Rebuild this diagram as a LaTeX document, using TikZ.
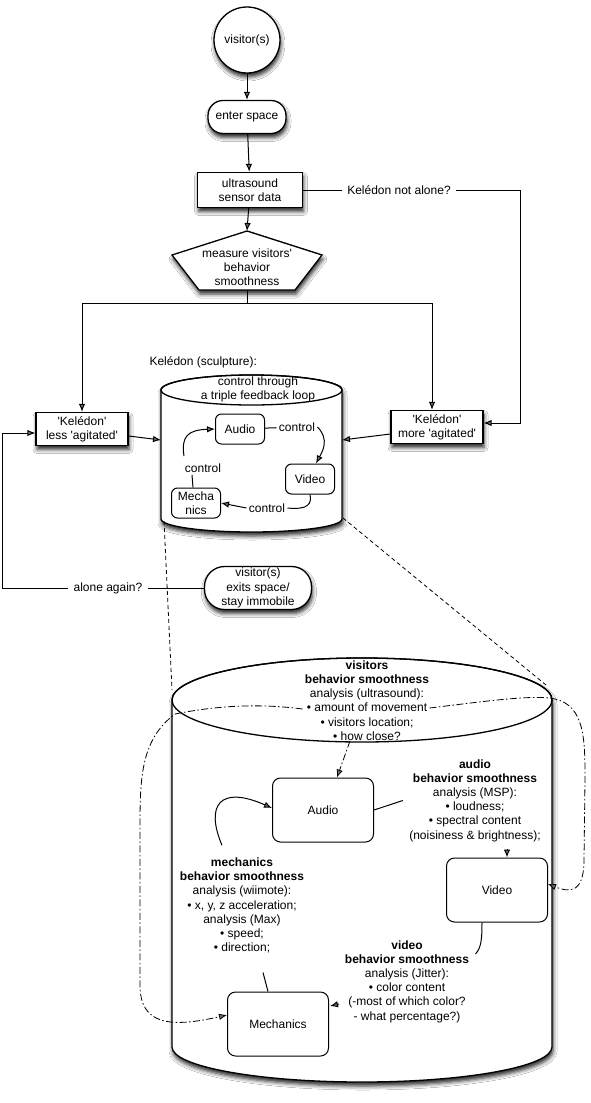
\documentclass[tikz,border=0pt]{standalone}
\usepackage{fontspec}
\setmainfont{Liberation Sans}
\usetikzlibrary{arrows.meta,calc,shadows.blur}
\newcommand\sq{\textquotesingle}
\begin{document}
\begin{tikzpicture}[x=1pt,y=-1pt,
  font=\fontsize{12}{14.2}\selectfont,
  line width=1pt,
  arr/.style={-{Latex[length=8pt,width=6.5pt]}},
  sh/.style={blur shadow={shadow xshift=1pt,shadow yshift=-4pt,shadow blur radius=4pt,shadow opacity=85}},
  box/.style={draw, line width=1.3pt, fill=white, sh, align=center, inner sep=0pt},
  sbox/.style={draw, line width=1pt, fill=white, rounded corners=6pt, align=center, inner sep=0pt, minimum width=49pt, minimum height=30pt},
  bbox/.style={draw, line width=1pt, fill=white, rounded corners=8pt, align=center, inner sep=0pt, minimum width=101pt, minimum height=64pt},
  lbl/.style={align=center, inner sep=2pt},
  gap/.style={align=center, inner sep=5pt},
  txt/.style={align=center, inner sep=0pt},
  dd/.style={dash pattern=on 7pt off 2.5pt on 1.5pt off 2.5pt, line width=0.8pt},
  ds/.style={dash pattern=on 4pt off 3pt, line width=0.8pt},
]
\useasboundingbox[fill=white] (0,0) rectangle (590,1103);

% ---------- top flow ----------
\node[box, circle, minimum size=66pt] (visitor) at (247,40) {visitor(s)};
\node[box, rounded corners=15pt, minimum width=78pt, minimum height=33pt] (enter) at (247,117) {enter space};
\node[box, minimum width=105pt, minimum height=35pt] (ultra) at (250,190) {ultrasound\\sensor data};
\draw[box] (247,231) coordinate (ptop) -- (322,255) -- (295,290) -- (247,290) coordinate (pbot) -- (199,290) -- (172,255) -- cycle;
\node[txt] (measure) at (247,267.5) {measure visitors\sq\\behavior\\smoothness};

\draw[arr] (visitor) -- (enter);
\draw[arr] (enter) -- (ultra);
\draw[arr] (ultra) -- (ptop);

\node[box, minimum width=92pt, minimum height=33pt] (less) at (82,429) {\sq Kelédon\sq\\less \sq agitated\sq};
\node[box, minimum width=92pt, minimum height=33pt] (more) at (437,427) {\sq Kelédon\sq\\more \sq agitated\sq};

\draw (pbot) -- (247,303) coordinate (split);
\draw[arr] (split) -| (less);
\draw[arr] (split) -| ([xshift=-5pt]more.north);

\node[gap] (notalone) at (399,190) {Kelédon not alone?};
\draw (ultra) -- (notalone);
\draw[arr] (notalone.east) -- ++(64,0) |- ([yshift=4pt]more.east);

% ---------- small cylinder ----------
\node[anchor=west, inner sep=0pt] (sculptlabel) at (149,362) {Kelédon (sculpture):};
\draw[line width=1.3pt, fill=white, sh]
  (161,390) -- (161,519) .. controls (161,526.2) and (201.5,532) .. (251.5,532)
  .. controls (301.5,532) and (342,526.2) .. (342,519) -- (342,390)
  .. controls (342,381.7) and (301.5,375) .. (251.5,375)
  .. controls (201.5,375) and (161,381.7) .. (161,390) -- cycle;
\draw[line width=1.3pt] (251.5,390) ellipse [x radius=90.5, y radius=15];
\node[txt] (loop) at (258,389) {control through\\a triple feedback loop};
\coordinate (cylL) at (161,440);
\coordinate (cylR) at (342,440);
\coordinate (cylBL) at (164,521);
\coordinate (cylBR) at (343,518);

\node[sbox] (aud) at (240,429) {Audio};
\node[sbox] (vid) at (310,479) {Video};
\node[sbox] (mec) at (196,503) {Mecha\\nics};
\node[lbl] (c1) at (297,427) {control};
\node[lbl] (c2) at (267,508) {control};
\node[lbl] (c3) at (203,468) {control};

\draw (aud) -- (c1);
\draw[arr] (c1.east) .. controls (330,440) and (322,452) .. ([xshift=6pt]vid.north);
\draw (vid.south) .. controls (312,504) and (308,510) .. (c2.east);
\draw[arr] (c2.west) -- (mec.east);
\draw ([xshift=-3pt]mec.north) -- ([xshift=-11pt]c3.south);
\draw[arr] ([xshift=-19pt,yshift=5pt]c3.north) .. controls (181,436) and (188,430) .. (aud.west);

\draw[arr] ([yshift=-7pt]less.east) -- (cylL);
\draw[arr] ([yshift=-7pt]more.west) -- (cylR);

% ---------- exit loop ----------
\node[box, rounded corners=20pt, minimum width=107pt, minimum height=43pt] (exits) at (258,588) {visitor(s)\\exits space/\\stay immobile};
\node[gap] (alone) at (108,588) {alone again?};
\draw (exits) -- (alone);
\draw[arr] (alone.west) -- ++(-66,0) |- ([yshift=-4pt]less.west);

% ---------- big cylinder ----------
\draw[line width=1.3pt, fill=white, sh]
  (172,700) -- (172,1047) .. controls (172,1066.3) and (257.1,1082) .. (362,1082)
  .. controls (466.9,1082) and (552,1066.3) .. (552,1047) -- (552,700)
  .. controls (552,676.8) and (466.9,658) .. (362,658)
  .. controls (257.1,658) and (172,676.8) .. (172,700) -- cycle;
\draw[line width=1.3pt] (362,700) ellipse [x radius=190, y radius=42];
\coordinate (bigTL) at (172,690);
\coordinate (bigTR) at (546,685);

\draw[ds] (cylBL) -- (bigTL);
\draw[ds] (cylBR) -- (bigTR);

\node[txt] (vtext) at (367,700.5) {\textbf{visitors}\\\textbf{behavior smoothness}\\analysis (ultrasound):\\• amount of movement\\• visitors location;\\• how close?};

\node[bbox] (baud) at (323,810) {Audio};
\node[bbox] (bvid) at (497,890) {Video};
\node[bbox] (bmec) at (278,1024) {Mechanics};

\node[txt] (atext) at (475,800.5) {\textbf{audio}\\\textbf{behavior smoothness}\\analysis (MSP):\\• loudness;\\• spectral content\\(noisiness \& brightness);};
\node[txt] (mtext) at (242,905.5) {\textbf{mechanics}\\\textbf{behavior smoothness}\\analysis (wiimote):\\• x, y, z acceleration;\\analysis (Max)\\• speed;\\• direction;};
\node[txt] (vdtext) at (407,981.5) {\textbf{video}\\\textbf{behavior smoothness}\\analysis (Jitter):\\• color content\\(-most of which color?\\- what percentage?)};

\draw[dd, arr] ($(vtext.west)+(-2,8.5)$) .. controls (250,702) and (205,708) .. (175,714)
  .. controls (140,740) and (140,780) .. (140,830) -- (140,985)
  .. controls (140,1025) and (170,1028) .. ([yshift=9pt]bmec.west);
\draw[dd, arr] ($(vtext.east)+(0,7.5)$) .. controls (480,702) and (535,694) .. (555,699)
  .. controls (585,706) and (585,740) .. (585,780) -- (584,860)
  .. controls (584,895) and (568,892) .. ([yshift=6pt]bvid.east);
\draw[dd, arr] ($(vtext.south)+(-17,0)$) -- ([xshift=14pt]baud.north);

\draw (baud.east) -- ([xshift=-6pt]atext.west);
\draw[arr] ($(bvid.north)+(10,-9)$) -- ([xshift=10pt]bvid.north);
\draw[arr] ($(mtext.north)+(-20,-12)$) .. controls (205,805) and (220,785) .. ([yshift=2pt]baud.west);
\draw ($(bmec.north)+(-15,-19)$) -- ($(bmec.north)+(-10,0)$);
\draw ($(bvid.south)+(-15,0)$) .. controls (482,940) and (481,948) .. ($(vdtext.north east)+(6,14)$);
\draw[arr] ($(bmec.east)+(10,-20)$) -- ($(bmec.east)+(1,-18)$);
\end{tikzpicture}
\end{document}
